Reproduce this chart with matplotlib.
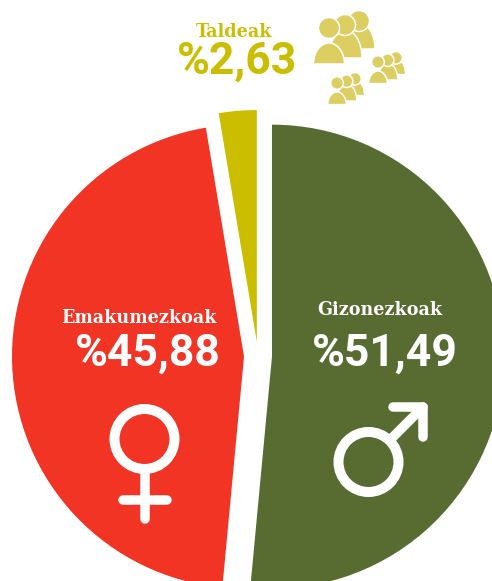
import numpy as np
import matplotlib
matplotlib.use("Agg")
import matplotlib.pyplot as plt
from matplotlib.patches import Circle, Polygon

W, H = 492, 581

categories = ["Gizonezkoak", "Emakumezkoak", "Taldeak"]
values = [51.49, 45.88, 2.63]
value_labels = ["%51,49", "%45,88", "%2,63"]
colors = ["#586C32", "#F23424", "#CBBE00"]
ICON = "#DDCE62"

PX = 72 / 100  # 1 pixel in points

fig = plt.figure(figsize=(W / 100, H / 100), dpi=100)
ax = fig.add_axes([0, 0, 1, 1])

# pie, each slice pulled out from the shared centre (explode is in data units, so pixels here)
ax.pie(values, colors=colors, startangle=90, counterclock=False,
       radius=232, center=(258, H - 356), explode=[14, 14, 14])
ax.set_xlim(0, W)
ax.set_ylim(0, H)
ax.set_aspect("equal")
ax.axis("off")


def y(v):
    return H - v


SERIF = dict(family="DejaVu Serif", fontweight="bold", stretch="condensed", ha="center", va="center")
SANS = dict(family="Roboto", fontweight="bold", ha="center", va="center")

ax.text(234, y(32), categories[2], color=colors[2], fontsize=14, **SERIF)
ax.text(237, y(62), value_labels[2], color=colors[2], fontsize=32, **SANS)
ax.text(139, y(318), categories[1], color="white", fontsize=14, **SERIF)
ax.text(148, y(354), value_labels[1], color="white", fontsize=32, **SANS)
ax.text(380, y(310), categories[0], color="white", fontsize=14, **SERIF)
ax.text(385, y(354), value_labels[0], color="white", fontsize=32, **SANS)


def stroke(xs, ys):
    ax.plot(xs, [y(v) for v in ys], color="white", lw=9.5 * PX, solid_capstyle="round",
            solid_joinstyle="round", zorder=4)


# female sign
ax.add_patch(Circle((144.5, y(439)), 30, fill=False, ec="white", lw=10 * PX, zorder=4))
stroke([145, 145], [470, 519])
stroke([123, 167], [500, 500])

# male sign
ax.add_patch(Circle((368.5, y(462)), 30, fill=False, ec="white", lw=10 * PX, zorder=4))
stroke([391, 423], [439, 407])
stroke([393, 423, 423], [407, 407, 437])


def person(hx, hy, bx, bottom, rx, ry, s, ox, oy):
    # one head and shoulders, sizes relative to the group origin
    t = np.linspace(0, np.pi, 40)
    px = ox + s * bx + s * rx * np.cos(t)
    py = y(oy + s * bottom) + s * ry * np.sin(t)
    ax.add_patch(Polygon(np.column_stack([px, py]), fc=ICON, ec="white", lw=1.5 * PX, zorder=3))
    ax.add_patch(Circle((ox + s * hx, y(oy + s * hy)), 10.5 * s, fc=ICON, ec="white", lw=1.5 * PX, zorder=3))


def group(ox, oy, s):
    person(30, -7, 30, 21, 16, 26, s, ox, oy)
    person(16, -3, 16.5, 30, 16.5, 28, s, ox, oy)
    person(0, 0, 0, 36, 15.5, 21, s, ox, oy)


group(329, 28, 1)
group(378, 62, 0.6)
group(337, 83, 0.6)

fig.savefig("out.png", dpi=100)
plt.close(fig)
